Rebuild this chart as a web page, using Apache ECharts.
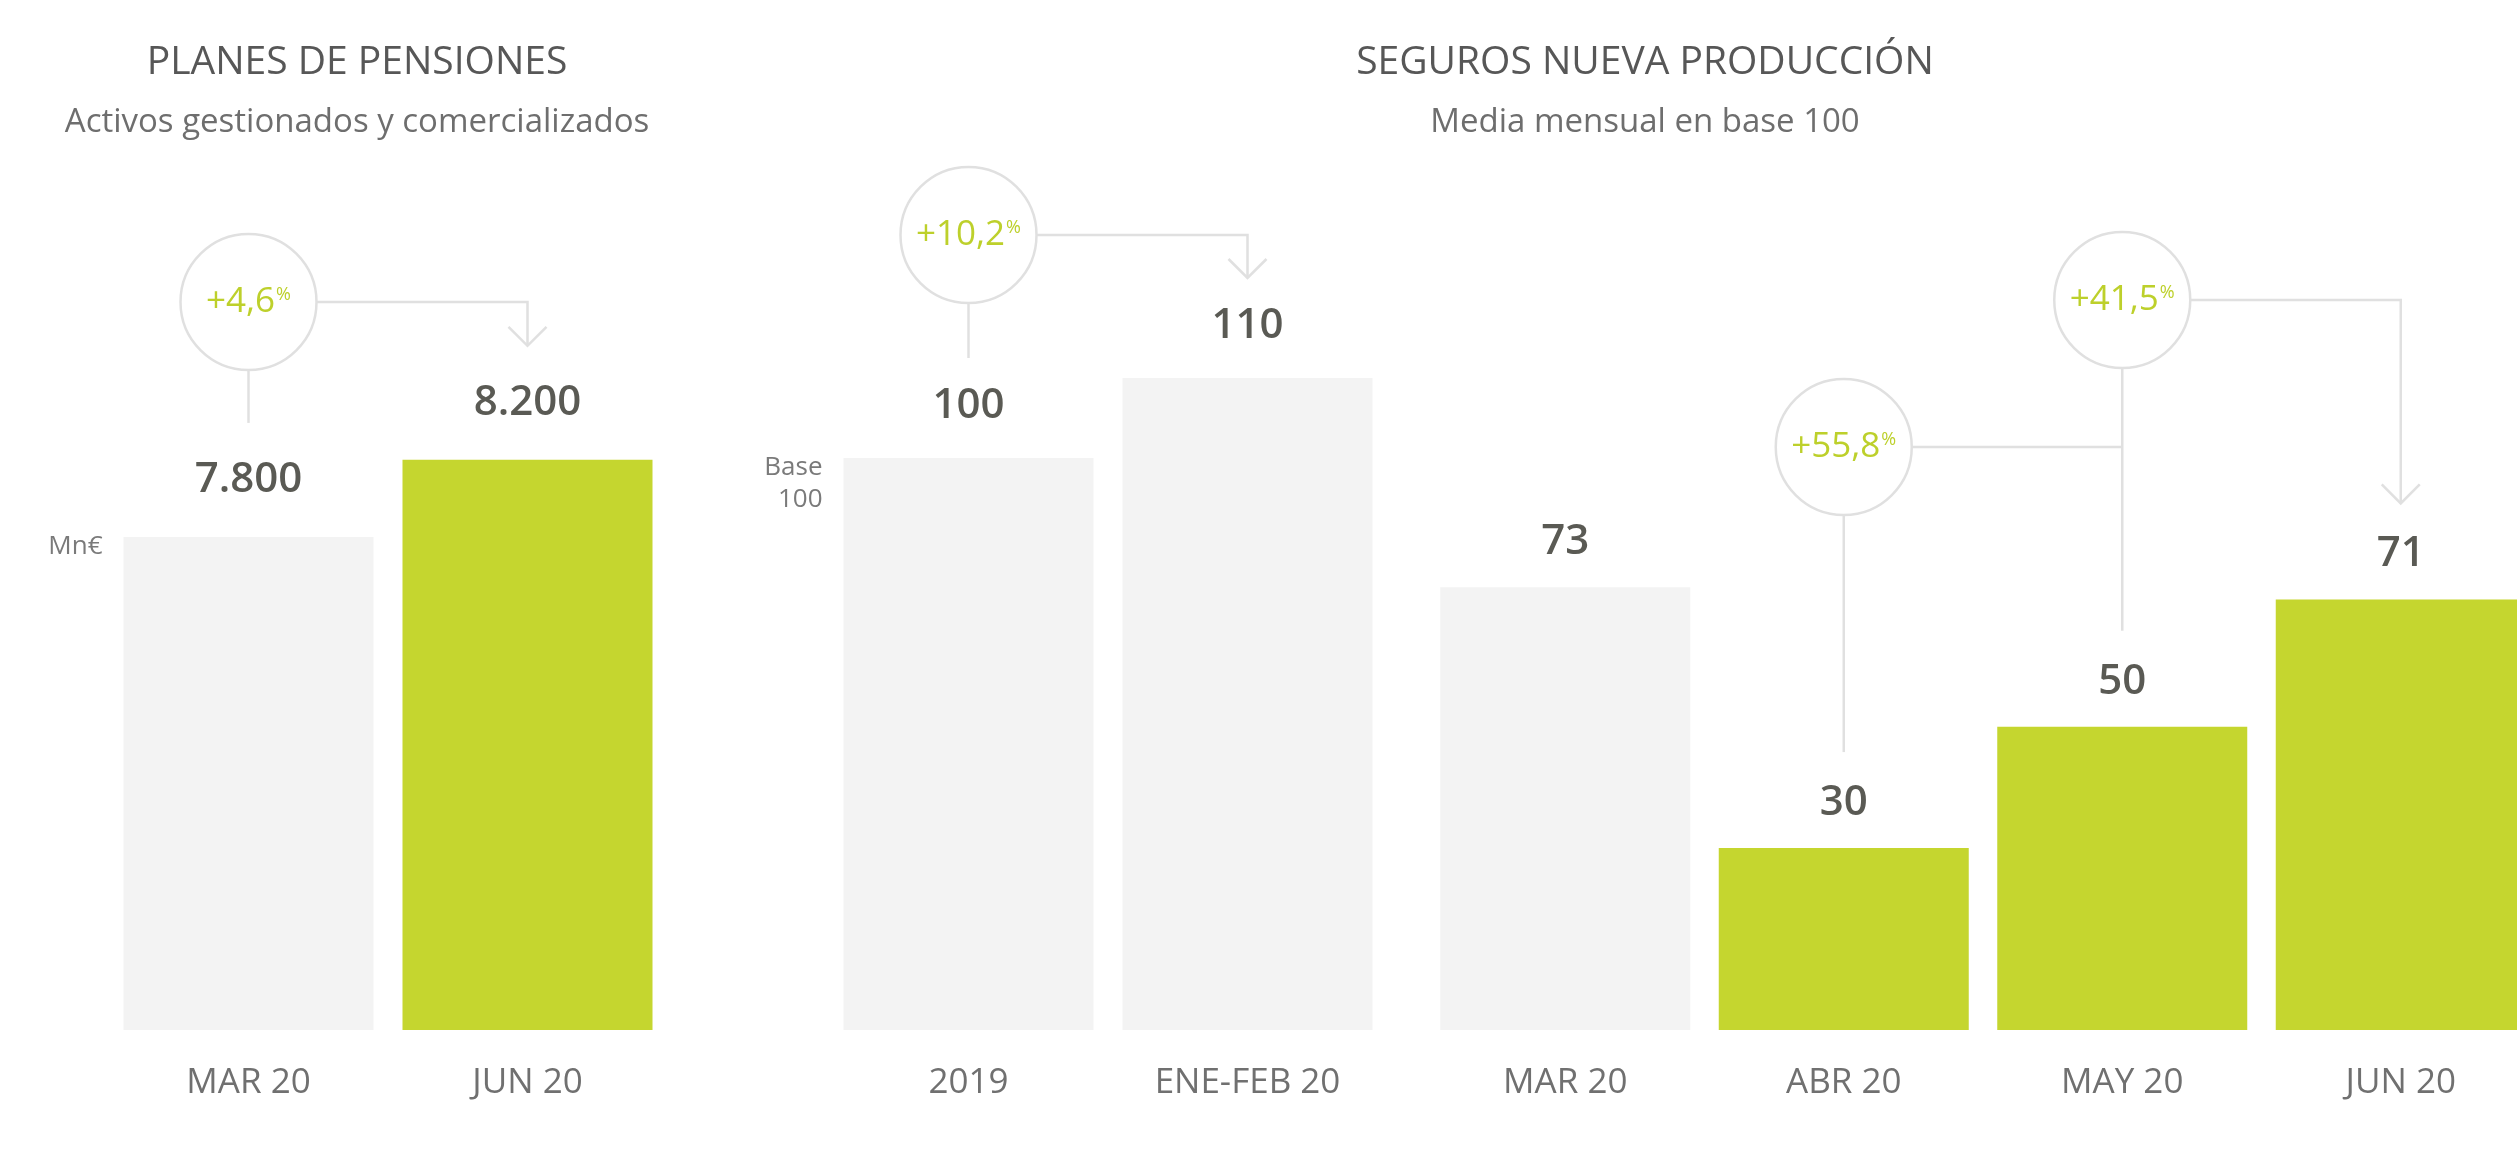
<!DOCTYPE html>
<html>
<head>
<meta charset="utf-8">
<title>Planes de pensiones y seguros nueva producción</title>
<script src="https://cdn.jsdelivr.net/npm/echarts@6/dist/echarts.min.js"></script>
<style>
    html, body { margin: 0; padding: 0; background: #fff; overflow: hidden; width: 2517px; height: 1165px; }
    /* the last bar runs past the right edge in the original, so the canvas is a little wider than the window */
    #chart { width: 2545px; height: 1165px; }
</style>
</head>
<body>
<div id="chart"></div>
<script>
// Planes de pensiones, Mn€
const pensionCategories = ['MAR 20', 'JUN 20'];
const pensionValues = [7800, 8200];

// Seguros nueva producción, media mensual en base 100
const baseCategories = ['2019', 'ENE-FEB 20'];
const baseValues = [100, 110];
const monthCategories = ['MAR 20', 'ABR 20', 'MAY 20', 'JUN 20'];
const monthValues = [73, 30, 50, 71];

// bars drawn in green, by index in each panel
const pensionGreen = [1];
const baseGreen = [];
const monthGreen = [1, 2, 3];

// variations shown in circles: panel, from bar, to bar
const changeTexts = ['+4,6', '+10,2', '+55,8', '+41,5'];
const changeLinks = [
    { grid: 0, from: 0, to: 1, arrow: true },
    { grid: 1, from: 0, to: 1, arrow: true },
    { grid: 2, from: 1, to: 2, arrow: false },
    { grid: 2, from: 2, to: 3, arrow: true }
];

const FONT = "'Open Sans', sans-serif";
const GREEN = '#c5d62f';
const GREY = '#f3f3f3';
const LINE = '#e0e0e0';
const PCT = '#bdd02b';

// layout of the annotations (pixels)
const circleY = [302, 235, 447, 300];
const circleR = 68;
const stemGap = [114, 100, 96];   // distance from bar top to end of lines, per panel
const labelDist = [36, 31, 24];

function fmt(v) {
    return String(v).replace(/\B(?=(\d{3})+(?!\d))/g, '.');
}

function barSeries(idx, values, green) {
    return {
        type: 'bar',
        xAxisIndex: idx,
        yAxisIndex: idx,
        barWidth: 250,
        silent: true,
        data: values.map((v, i) => ({
            value: v,
            itemStyle: { color: green.includes(i) ? GREEN : GREY }
        })),
        label: {
            show: true,
            position: 'top',
            distance: labelDist[idx],
            formatter: p => fmt(p.value),
            fontFamily: FONT,
            fontSize: 42,
            fontWeight: 600,
            color: '#5a5a54'
        }
    };
}

function xAxis(idx, cats) {
    return {
        type: 'category',
        gridIndex: idx,
        data: cats,
        axisLine: { show: false },
        axisTick: { show: false },
        axisLabel: { fontFamily: FONT, fontSize: 35, color: '#707070', margin: 36 }
    };
}

function yAxis(idx, min, max) {
    return { type: 'value', gridIndex: idx, min: min, max: max, show: false, splitLine: { show: false } };
}

const chart = echarts.init(document.getElementById('chart'));

const titleStyle = { fontFamily: FONT, fontSize: 39, fontWeight: 'normal', color: '#575757' };
const subStyle = { fontFamily: FONT, fontSize: 33, color: '#6e6e6e' };

chart.setOption({
    animation: false,
    backgroundColor: '#fff',
    title: [
        {
            text: 'PLANES DE PENSIONES',
            subtext: 'Activos gestionados y comercializados',
            left: 357, top: 43, padding: 0, textAlign: 'center', itemGap: 24,
            textStyle: titleStyle, subtextStyle: subStyle
        },
        {
            text: 'SEGUROS NUEVA PRODUCCIÓN',
            subtext: 'Media mensual en base 100',
            left: 1645, top: 43, padding: 0, textAlign: 'center', itemGap: 24,
            textStyle: titleStyle, subtextStyle: subStyle
        }
    ],
    grid: [
        { left: 109, width: 558, top: 90, bottom: 135 },
        { left: 829, width: 558, top: 90, bottom: 135 },
        { left: 1426, width: 1114, top: 90, bottom: 135 }
    ],
    xAxis: [
        xAxis(0, pensionCategories),
        xAxis(1, baseCategories),
        xAxis(2, monthCategories)
    ],
    yAxis: [
        yAxis(0, 5240, 10120),
        yAxis(1, 28.5, 146),
        yAxis(2, 0, 155)
    ],
    series: [
        barSeries(0, pensionValues, pensionGreen),
        barSeries(1, baseValues, baseGreen),
        barSeries(2, monthValues, monthGreen)
    ]
});

const panelValues = [pensionValues, baseValues, monthValues];

function barTop(g, i) {
    return chart.convertToPixel({ seriesIndex: g }, [i, panelValues[g][i]]);
}

const elements = [];
const lineStyle = { stroke: LINE, lineWidth: 2.5, fill: null };

changeLinks.forEach((link, k) => {
    const from = barTop(link.grid, link.from);
    const to = barTop(link.grid, link.to);
    const cx = from[0];
    const cy = circleY[k];
    const gap = stemGap[link.grid];

    // stem from circle down towards the starting bar
    elements.push({
        type: 'line', silent: true,
        shape: { x1: cx, y1: cy + circleR, x2: cx, y2: from[1] - gap },
        style: lineStyle
    });
    // connector to the target bar
    const pts = [[cx + circleR, cy], [to[0], cy]];
    if (link.arrow) pts.push([to[0], to[1] - gap]);
    elements.push({ type: 'polyline', silent: true, shape: { points: pts }, style: lineStyle });
    if (link.arrow) {
        const ty = to[1] - gap;
        elements.push({
            type: 'polyline', silent: true,
            shape: { points: [[to[0] - 19, ty - 19], [to[0], ty], [to[0] + 19, ty - 19]] },
            style: lineStyle
        });
    }
    elements.push({
        type: 'circle', silent: true,
        shape: { cx: cx, cy: cy, r: circleR },
        style: { fill: '#fff', stroke: LINE, lineWidth: 2.5 }
    });
    elements.push({
        type: 'text', silent: true, x: cx, y: cy,
        style: {
            text: '{a|' + changeTexts[k] + '}{b|%}',
            align: 'center', verticalAlign: 'middle',
            fill: PCT, fontFamily: FONT,
            rich: {
                a: { fontSize: 35, fontFamily: FONT, fill: PCT, lineHeight: 40 },
                b: { fontSize: 18, fontFamily: FONT, fill: PCT, verticalAlign: 'top', lineHeight: 40, padding: [4, 0, 0, 1] }
            }
        }
    });
});

// unit notes beside the first bar of each scale
const pFirst = barTop(0, 0);
const bFirst = barTop(1, 0);
[[pFirst, 'Mn€'], [bFirst, 'Base\n100']].forEach(([pt, txt]) => {
    elements.push({
        type: 'text', silent: true, x: pt[0] - 146, y: pt[1] - 6,
        style: {
            text: txt, align: 'right', verticalAlign: 'top',
            fontFamily: FONT, fontSize: 26, lineHeight: 32, fill: '#7a7a7a'
        }
    });
});

chart.setOption({ graphic: { elements: elements } });
</script>
</body>
</html>
